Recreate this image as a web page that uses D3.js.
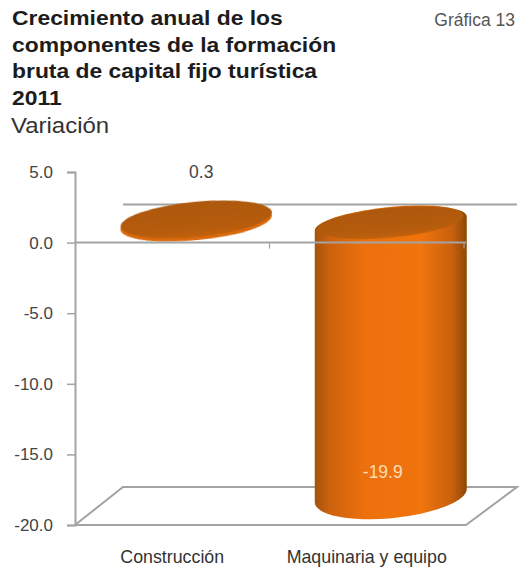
<!DOCTYPE html>
<html>
<head>
<meta charset="utf-8">
<title>Gráfica 13</title>
<script src="https://cdn.jsdelivr.net/npm/d3@7"></script>
<style>
  html, body { margin: 0; padding: 0; background: #fff; }
  svg { display: block; font-family: "Liberation Sans", Arial, sans-serif; }
</style>
</head>
<body>
<div id="chart"></div>
<script>
const categories = ['Construcción', 'Maquinaria y equipo']
const values = [0.3, -19.9]
const valueLabels = ['0.3', '-19.9']
const yTicks = [5, 0, -5, -10, -15, -20]
const titleLines = ['Crecimiento anual de los', 'componentes de la formación', 'bruta de capital fijo turística', '2011']

const width = 519
const height = 569
const depth = {x: 48, y: -38}
const gray = '#a3a3a3'

const svg = d3.select('#chart')
  .append('svg')
  .attr('width', width)
  .attr('height', height)

const xScale = d3.scaleBand().domain(categories).range([75, 464])
const yScale = d3.scaleLinear().domain([-20, 5]).range([525, 172])

// gradients for the cylinder side and its cap
const defs = svg.append('defs')
const side = defs.append('linearGradient').attr('id', 'side')
side.selectAll('stop')
  .data([[0, '#a4530a'], [0.1, '#cc6208'], [0.32, '#ec7008'], [0.7, '#f07408'], [0.9, '#c96108'], [1, '#8e4806']])
  .enter().append('stop')
  .attr('offset', d => d[0])
  .attr('stop-color', d => d[1])
const cap = defs.append('linearGradient').attr('id', 'cap').attr('x1', 0).attr('y1', 0).attr('x2', 0).attr('y2', 1)
cap.selectAll('stop')
  .data([[0, '#ad590b'], [0.75, '#b55b0a'], [1, '#c2610a']])
  .enter().append('stop')
  .attr('offset', d => d[0])
  .attr('stop-color', d => d[1])
// the reference edges are soft
defs.append('filter').attr('id', 'soft')
  .append('feGaussianBlur').attr('stdDeviation', 0.6)

// titles
svg.append('g').selectAll('text')
  .data(titleLines)
  .enter().append('text')
  .attr('transform', (d, i) => 'translate(12,' + (25 + i * 26.7) + ') scale(1.09,1)')
  .attr('font-size', 21)
  .attr('font-weight', 'bold')
  .attr('fill', '#1c1c1c')
  .text(d => d)

svg.append('text')
  .attr('transform', 'translate(11,133) scale(1.09,1)')
  .attr('font-size', 22)
  .attr('fill', '#333')
  .text('Variación')

svg.append('text')
  .attr('x', 515)
  .attr('y', 26)
  .attr('text-anchor', 'end')
  .attr('font-size', 17.5)
  .attr('fill', '#555')
  .text('Gráfica 13')

// back wall line and floor, behind the bars
const x0 = xScale.range()[0]
const x1 = xScale.range()[1] + 2
const yZero = yScale(0)
const yBottom = yScale(-20)
const frame = svg.append('g')
  .attr('fill', 'none')
  .attr('stroke', gray)
  .attr('stroke-width', 2)
frame.append('line')
  .attr('x1', x0 + depth.x).attr('x2', x1 + depth.x + 3)
  .attr('y1', yZero + depth.y).attr('y2', yZero + depth.y)
frame.append('path')
  .attr('d', d3.line()([
    [x0, yBottom],
    [x0 + depth.x, yBottom + depth.y],
    [x1 + depth.x + 3, yBottom + depth.y],
    [x1, yBottom],
    [x0, yBottom]
  ]))

// cylinders
const rx = 76
const ry = 16.5
const tilt = -5.5
const drop = 7
const shiftX = 24
const shiftTop = -19
const shiftBase = -28

const rows = categories.map((c, i) => ({name: c, value: values[i], label: valueLabels[i]}))
const bars = svg.append('g').selectAll('g')
  .data(rows)
  .enter().append('g')
  .attr('transform', d => 'translate(' + (xScale(d.name) + xScale.bandwidth() / 2 + shiftX) + ',0)')

// positive bar is a thin disc: a lit base under the cap
bars.filter(d => d.value > 0).append('ellipse')
  .attr('rx', rx)
  .attr('ry', ry + 1)
  .attr('cy', yScale(0) + shiftTop - 1)
  .attr('fill', '#d96a0a')
  .attr('filter', 'url(#soft)')
  .attr('transform', 'rotate(' + tilt + ',0,' + (yScale(0) + shiftTop) + ')')

bars.filter(d => d.value < 0).append('path')
  .attr('fill', 'url(#side)')
  .attr('filter', 'url(#soft)')
  .attr('d', d => {
    const top = yScale(0) + shiftTop
    const base = yScale(d.value) + shiftBase
    return 'M' + (-rx) + ',' + (top + drop) +
      'A' + rx + ',' + ry + ',' + tilt + ',0,1,' + rx + ',' + (top - drop) +
      'V' + (base - drop) +
      'A' + rx + ',' + (ry + 6) + ',' + tilt + ',0,1,' + (-rx) + ',' + (base + drop) + 'Z'
  })

bars.append('ellipse')
  .attr('rx', d => d.value > 0 ? rx : rx - 3)
  .attr('ry', d => d.value > 0 ? ry + 1 : ry - 1.5)
  .attr('cy', d => yScale(Math.max(d.value, 0)) + shiftTop - (d.value > 0 ? 0 : 1))
  .attr('fill', 'url(#cap)')
  .attr('filter', 'url(#soft)')
  .attr('transform', d => 'rotate(' + tilt + ',0,' + (yScale(Math.max(d.value, 0)) + shiftTop) + ')')

// front axes, drawn over the bars
const yAxis = d3.axisLeft(yScale)
  .tickValues(yTicks)
  .tickFormat(d => d.toFixed(1))
  .tickSize(8)
  .tickPadding(14)

const yG = svg.append('g')
  .attr('transform', 'translate(' + x0 + ',0)')
  .call(yAxis)
yG.select('.domain').attr('stroke', gray).attr('stroke-width', 2)
yG.selectAll('.tick line').attr('stroke', gray).attr('stroke-width', 1.5)
yG.selectAll('.tick text')
  .attr('font-family', '"Liberation Sans", Arial, sans-serif')
  .attr('font-size', 17)
  .attr('fill', '#444')

svg.append('line')
  .attr('x1', x0).attr('x2', x1)
  .attr('y1', yZero).attr('y2', yZero)
  .attr('stroke', gray)
  .attr('stroke-width', 2)

svg.append('g').selectAll('line')
  .data(categories)
  .enter().append('line')
  .attr('x1', d => xScale(d) + xScale.bandwidth())
  .attr('x2', d => xScale(d) + xScale.bandwidth())
  .attr('y1', yZero)
  .attr('y2', yZero + 6)
  .attr('stroke', gray)
  .attr('stroke-width', 1.2)

// category labels
svg.append('g').selectAll('text')
  .data(categories)
  .enter().append('text')
  .attr('x', d => xScale(d) + xScale.bandwidth() / 2)
  .attr('y', 563)
  .attr('text-anchor', 'middle')
  .attr('font-size', 17.8)
  .attr('fill', '#333')
  .text(d => d)

// value labels
bars.append('text')
  .attr('x', d => d.value < 0 ? -8 : 5)
  .attr('y', d => d.value < 0 ? yScale(d.value) - 46 : yScale(5) + 6)
  .attr('text-anchor', 'middle')
  .attr('font-size', 17.5)
  .attr('fill', d => d.value < 0 ? '#ffdcb8' : '#444')
  .text(d => d.label)
</script>
</body>
</html>
